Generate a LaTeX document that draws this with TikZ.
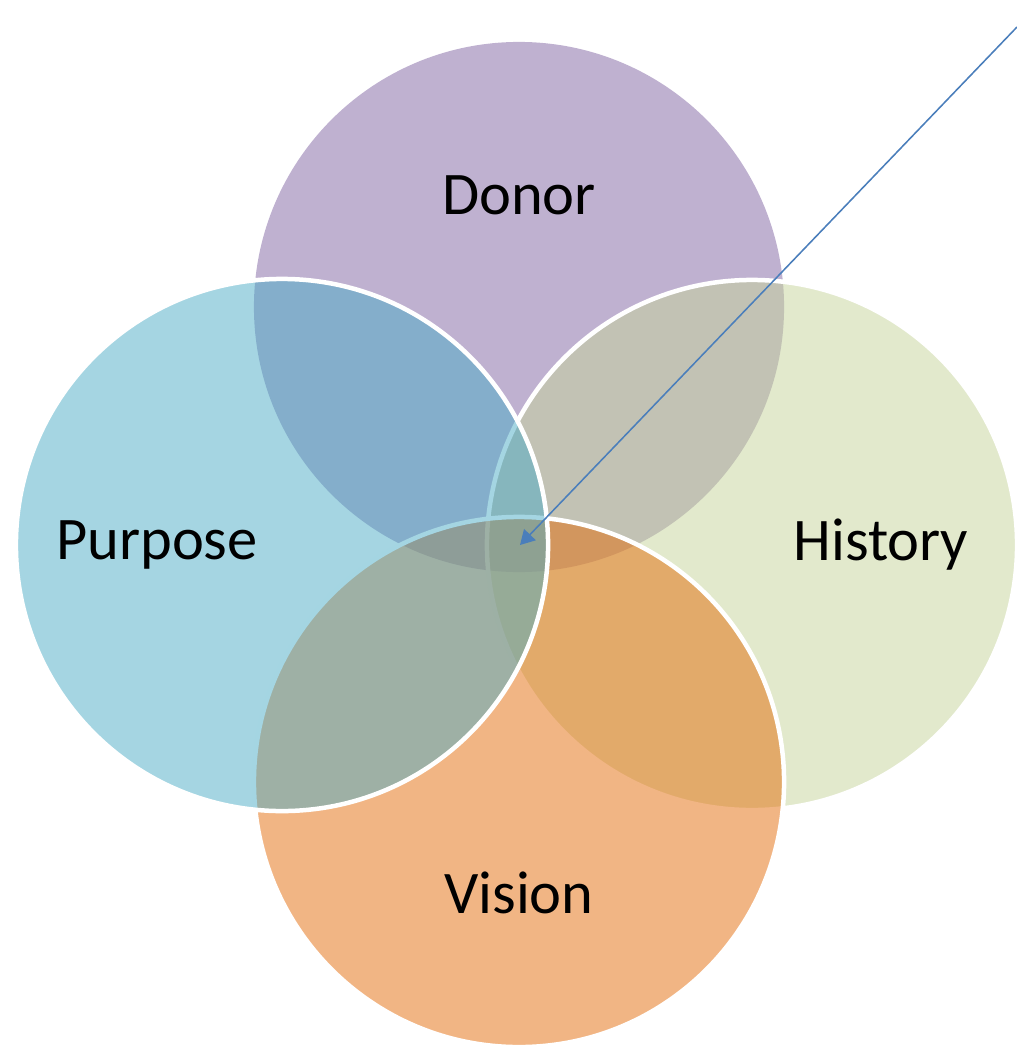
\documentclass[tikz,border=0pt]{standalone}
\usepackage{fontspec}
\setmainfont{Carlito}
\usetikzlibrary{arrows.meta}
\definecolor{donorcol}{HTML}{8064A2}
\definecolor{historycol}{HTML}{C5D399}
\definecolor{visioncol}{HTML}{E46C0A}
\definecolor{purposecol}{HTML}{4BACC6}
\definecolor{arrowcol}{HTML}{4A7EBB}
\tikzset{
	petal/.style={fill opacity=0.5, draw=white, line width=3.2pt},
	label/.style={font=\fontsize{43}{52}\selectfont, text=black}
}
\begin{document}
\begin{tikzpicture}[x=0.025cm,y=-0.025cm]
			\useasboundingbox (0,0) rectangle (1017,1046);
			
			% Circles
			\fill[donorcol, fill opacity=0.5] (519,307) circle (6.625cm);
			\filldraw[petal, fill=historycol] (752,545) circle (6.625cm);
			\filldraw[petal, fill=visioncol] (519,782) circle (6.625cm);
			\filldraw[petal, fill=purposecol] (282,545) circle (6.65cm);
			
			% Labels
			\node[label] (donor) at (519,195) {Donor};
			\node[label] (history) at (881,545) {History};
			\node[label] (vision) at (519,893) {Vision};
			\node[label] (purpose) at (157,545) {Purpose};
			
			% Pointer
			\coordinate (start) at (1017,27);
			\coordinate (centre) at (520,545);
			\draw[arrowcol, line width=1.1pt, -{Triangle[length=3.6mm,width=4mm]}] (start) -- (centre);
\end{tikzpicture}
\end{document}
